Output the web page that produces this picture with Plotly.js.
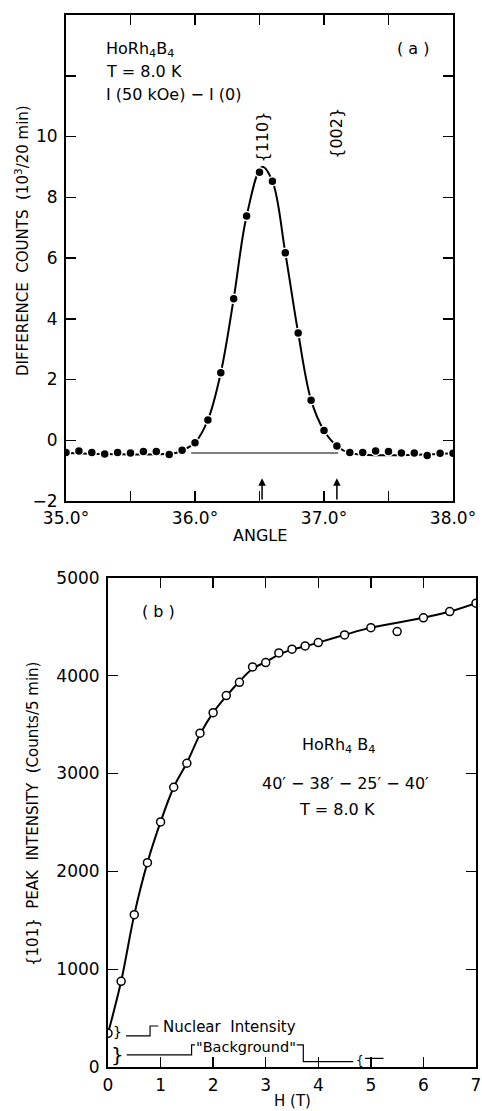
<!DOCTYPE html>
<html>
<head>
<meta charset="utf-8">
<script src="https://cdn.plot.ly/plotly-3.0.1.min.js"></script>
<style>html,body{margin:0;padding:0;background:#fff;}#chart{width:482px;height:1111px;}</style>
</head>
<body>
<div id="chart"></div>
<script>
// ---- Panel (a): difference counts vs angle ----
const angle = [35.0,35.1,35.2,35.3,35.4,35.5,35.6,35.7,35.8,35.9,36.0,36.1,36.2,36.3,36.4,36.5,36.6,36.7,36.8,36.9,37.0,37.1,37.2,37.3,37.4,37.5,37.6,37.7,37.8,37.9,38.0];
const diffCounts = [-0.40,-0.35,-0.40,-0.45,-0.40,-0.42,-0.37,-0.37,-0.47,-0.33,-0.08,0.67,2.22,4.66,7.38,8.82,8.53,6.17,3.53,1.32,0.32,-0.19,-0.40,-0.40,-0.35,-0.37,-0.42,-0.42,-0.50,-0.43,-0.43];
const fitAngle = [35.0,35.85,35.9,36.0,36.1,36.2,36.3,36.4,36.52,36.6,36.7,36.8,36.9,37.0,37.1,37.2,38.0];
const fitCounts = [-0.42,-0.42,-0.33,-0.08,0.67,2.22,4.66,7.38,9.0,8.53,6.17,3.53,1.32,0.32,-0.19,-0.42,-0.43];
const baseAngle = [35.97,37.11];
const baseCounts = [-0.42,-0.42];
const peakAngles = [36.52,37.10];
const peakLabels = ['{110}','{002}'];
const peakLabelY = [9.97,10.12];
const xTicksA = [35.0,35.5,36.0,36.5,37.0,37.5,38.0];
const xTickTextA = ['35.0°','','36.0°','','37.0°','','38.0°'];
const yTicksA = [-2,0,2,4,6,8,10,12,14];
const yTickTextA = ['\u22122','0','2','4','6','8','10','',''];

// ---- Panel (b): peak intensity vs field ----
const fieldH = [0,0.25,0.5,0.75,1.0,1.25,1.5,1.75,2.0,2.25,2.5,2.75,3.0,3.25,3.5,3.75,4.0,4.5,5.0,5.5,6.0,6.5,7.0];
const peakI = [347,878,1559,2090,2506,2860,3105,3412,3622,3796,3932,4089,4133,4232,4270,4303,4337,4416,4490,4450,4590,4654,4740];
const curveH = [0,0.25,0.5,0.75,1.0,1.25,1.5,1.75,2.0,2.25,2.5,2.75,3.0,3.25,3.5,3.75,4.0,4.5,5.0,6.0,6.5,7.0];
const curveI = [347,878,1559,2090,2506,2860,3110,3400,3622,3790,3940,4070,4140,4215,4265,4300,4337,4416,4490,4590,4654,4740];
const nuclearStepH = [0.342,0.80,0.80,0.957];
const nuclearStepI = [320,320,422,422];
const bgStepH = [0.356,1.59,1.59,1.655];
const bgStepI = [126,126,228,228];
const bgTailH = [3.59,3.715,3.715,4.666];
const bgTailI = [228,228,57,57];
const barH = [4.89,5.24];
const barI = [92,92];
const barStemH = [5.0,5.0];
const barStemI = [92,0];
const xTicksB = [0,1,2,3,4,5,6,7];
const yTicksB = [0,1000,2000,3000,4000,5000];

const FONT = 'DejaVu Sans';
const W = 482, H = 1111;
const px = v => v / W, py = v => 1 - v / H;

const traces = [
  {x: fitAngle, y: fitCounts, mode: 'lines', line: {color: '#000', width: 2, shape: 'spline', smoothing: 1}, xaxis: 'x', yaxis: 'y', hoverinfo: 'skip'},
  {x: baseAngle, y: baseCounts, mode: 'lines', line: {color: '#000', width: 1.2}, xaxis: 'x', yaxis: 'y'},
  {x: angle, y: diffCounts, mode: 'markers', marker: {color: '#000', size: 9, line: {color: '#fff', width: 1.5}}, xaxis: 'x', yaxis: 'y'},
  {x: curveH, y: curveI, mode: 'lines', line: {color: '#000', width: 2, shape: 'spline', smoothing: 1}, xaxis: 'x2', yaxis: 'y2'},
  {x: fieldH, y: peakI, mode: 'markers', marker: {symbol: 'circle', color: '#fff', size: 8, line: {color: '#000', width: 1.5}}, xaxis: 'x2', yaxis: 'y2'},
  {x: nuclearStepH, y: nuclearStepI, mode: 'lines', line: {color: '#000', width: 1.2}, xaxis: 'x2', yaxis: 'y2'},
  {x: bgStepH, y: bgStepI, mode: 'lines', line: {color: '#000', width: 1.2}, xaxis: 'x2', yaxis: 'y2'},
  {x: bgTailH, y: bgTailI, mode: 'lines', line: {color: '#000', width: 1.2}, xaxis: 'x2', yaxis: 'y2'},
  {x: barH, y: barI, mode: 'lines', line: {color: '#000', width: 1.2}, xaxis: 'x2', yaxis: 'y2'},
  {x: barStemH, y: barStemI, mode: 'lines', line: {color: '#000', width: 1.2}, xaxis: 'x2', yaxis: 'y2'}
];

const axisCommon = {
  showline: true, linecolor: '#000', linewidth: 2, mirror: 'ticks',
  ticks: 'inside', ticklen: 10, tickwidth: 1.5, tickcolor: '#000',
  showgrid: false, zeroline: false, fixedrange: true,
  tickfont: {family: FONT, size: 17, color: '#000'}
};

const annFont = {family: FONT, size: 16, color: '#000'};
const smallFont = {family: FONT, size: 15, color: '#000'};
const annotations = [
  {xref: 'x', yref: 'y', x: 35.295, y: 12.85, xanchor: 'left', yanchor: 'middle', text: 'HoRh<sub>4</sub>B<sub>4</sub>', showarrow: false, font: annFont},
  {xref: 'x', yref: 'y', x: 35.295, y: 12.13, xanchor: 'left', yanchor: 'middle', text: 'T = 8.0 K', showarrow: false, font: annFont},
  {xref: 'x', yref: 'y', x: 35.295, y: 11.37, xanchor: 'left', yanchor: 'middle', text: 'I (50 kOe) \u2212 I (0)', showarrow: false, font: annFont},
  {xref: 'x', yref: 'y', x: 37.69, y: 12.91, xanchor: 'center', yanchor: 'middle', text: '( a )', showarrow: false, font: annFont},
  {xref: 'paper', yref: 'paper', x: px(22), y: py(241), xanchor: 'center', yanchor: 'middle', textangle: -90, text: 'DIFFERENCE\u00a0\u00a0COUNTS\u00a0\u00a0(10<sup>3</sup>/20 min)', showarrow: false, font: smallFont},
  {xref: 'paper', yref: 'paper', x: px(260), y: py(535), xanchor: 'center', yanchor: 'middle', text: 'ANGLE', showarrow: false, font: annFont},
  {xref: 'x2', yref: 'y2', x: 0.951, y: 4650, xanchor: 'center', yanchor: 'middle', text: '( b )', showarrow: false, font: annFont},
  {xref: 'x2', yref: 'y2', x: 4.375, y: 3291, xanchor: 'center', yanchor: 'middle', text: 'HoRh<sub>4</sub> B<sub>4</sub>', showarrow: false, font: annFont},
  {xref: 'x2', yref: 'y2', x: 4.51, y: 2903, xanchor: 'center', yanchor: 'middle', text: '40\u2032 \u2212 38\u2032 \u2212 25\u2032 \u2212 40\u2032', showarrow: false, font: annFont},
  {xref: 'x2', yref: 'y2', x: 4.356, y: 2628, xanchor: 'center', yanchor: 'middle', text: 'T = 8.0 K', showarrow: false, font: annFont},
  {xref: 'paper', yref: 'paper', x: px(33), y: py(814), xanchor: 'center', yanchor: 'middle', textangle: -90, text: '{101}\u00a0\u00a0PEAK\u00a0\u00a0INTENSITY\u00a0\u00a0(Counts/5 min)', showarrow: false, font: smallFont},
  {xref: 'paper', yref: 'paper', x: px(292), y: py(1101), xanchor: 'center', yanchor: 'middle', text: 'H (T)', showarrow: false, font: smallFont},
  {xref: 'x2', yref: 'y2', x: 1.0, y: 415, xanchor: 'left', yanchor: 'middle', text: 'Nuclear\u00a0\u00a0Intensity', showarrow: false, font: {family: FONT, size: 15, color: '#000'}},
  {xref: 'x2', yref: 'y2', x: 1.64, y: 205, xanchor: 'left', yanchor: 'middle', text: '"Background"', showarrow: false, font: {family: FONT, size: 14.5, color: '#000'}},
  {xref: 'x2', yref: 'y2', x: 0.19, y: 360, xanchor: 'center', yanchor: 'middle', text: '}', showarrow: false, font: {family: FONT, size: 14, color: '#000'}},
  {xref: 'x2', yref: 'y2', x: 0.19, y: 130, xanchor: 'center', yanchor: 'middle', text: '}', showarrow: false, font: {family: FONT, size: 20, color: '#000'}},
  {xref: 'x2', yref: 'y2', x: 4.79, y: 60, xanchor: 'center', yanchor: 'middle', text: '{', showarrow: false, font: {family: FONT, size: 12, color: '#000'}}
];
peakAngles.forEach((a, i) => {
  annotations.push({xref: 'x', yref: 'y', x: a, y: -1.25, axref: 'x', ayref: 'y', ax: a, ay: -2, showarrow: true, arrowhead: 2, arrowsize: 1, arrowwidth: 1.5, arrowcolor: '#000', text: ''});
  annotations.push({xref: 'x', yref: 'y', x: a, y: peakLabelY[i], xanchor: 'center', yanchor: 'middle', textangle: -90, text: peakLabels[i], showarrow: false, font: annFont});
});

const layout = {
  width: W, height: H,
  margin: {l: 0, r: 0, t: 0, b: 0},
  paper_bgcolor: '#fff', plot_bgcolor: 'rgba(0,0,0,0)',
  showlegend: false,
  xaxis: Object.assign({}, axisCommon, {domain: [66/W, 453/W], range: [35, 38], tickvals: xTicksA, ticktext: xTickTextA, anchor: 'y', ticklabelstandoff: 1}),
  yaxis: Object.assign({}, axisCommon, {domain: [1 - 501/H, 1 - 15/H], range: [-2, 14], tickvals: yTicksA, ticktext: yTickTextA, anchor: 'x', ticklabelstandoff: 3}),
  xaxis2: Object.assign({}, axisCommon, {domain: [108/W, 476/W], range: [0, 7], tickvals: xTicksB, anchor: 'y2', ticklabelstandoff: 1}),
  yaxis2: Object.assign({}, axisCommon, {domain: [1 - 1067.3/H, 1 - 577.7/H], range: [0, 5000], tickvals: yTicksB, anchor: 'x2', ticklabelstandoff: 3}),
  annotations: annotations
};

Plotly.newPlot('chart', traces, layout, {staticPlot: true, displayModeBar: false});
</script>
</body>
</html>
